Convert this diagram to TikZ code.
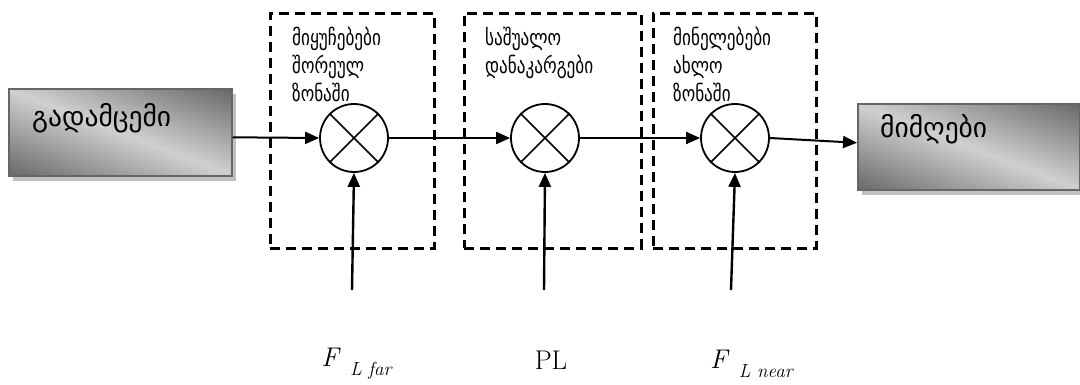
\documentclass[tikz,border=0pt]{standalone}
\usepackage{fontspec}
\newfontfamily\geo{DejaVu Sans}
\newfontfamily\geonarrow[FakeStretch=0.78]{DejaVu Sans}
\usetikzlibrary{arrows.meta,shadows}
\definecolor{boxdark}{HTML}{666666}
\definecolor{boxlight}{HTML}{D0D0D0}
\definecolor{boxedge}{HTML}{666666}
\definecolor{shadowgrey}{HTML}{C0C0C0}
% italic symbol with a lowered, smaller italic index
\newcommand{\lossvar}[2]{\textit{#1}\hspace{0.35em}\raisebox{-0.32em}{\fontsize{19}{20}\selectfont\textit{#2}}}
\begin{document}
\begin{tikzpicture}[x=1pt,y=-1pt,
  wire/.style={line width=2pt},
  arr/.style={wire,-{Triangle[length=14pt,width=12pt]}},
  feed/.style={line width=2.4pt,-{Triangle[length=14pt,width=12pt]}},
  mixer/.style={circle,draw,line width=1.8pt,minimum size=68pt,inner sep=0pt},
  zone/.style={draw,line width=2.8pt,dash pattern=on 10pt off 6pt,inner sep=0pt,anchor=north west},
  zonetext/.style={font=\geonarrow\fontsize{22}{28}\selectfont,align=left,inner sep=0pt,anchor=north west},
  endbox/.style={draw=boxedge,line width=1.6pt,inner sep=0pt,anchor=north west,
    general shadow={fill=shadowgrey,shadow xshift=4pt,shadow yshift=-5pt},
    path picture={
      % light band along the falling diagonal, dark towards two corners
      \shade[top color=boxdark,bottom color=boxdark,middle color=boxlight,
             transform canvas={rotate around={-21:(path picture bounding box.center)}}]
        ([shift={(-135,-82)}]path picture bounding box.center) rectangle
        ([shift={(135,82)}]path picture bounding box.center);
    }},
  endtext/.style={font=\geo\fontsize{27.5}{30}\selectfont,inner sep=0pt,anchor=base west},
  mathlbl/.style={font=\fontsize{27}{30}\selectfont,inner sep=0pt}
]
\useasboundingbox (0,0) rectangle (1080,385);

% transmitter and receiver blocks
\node[endbox,minimum width=223pt,minimum height=87pt] (tx) at (8,88) {};
\node[endtext] (txt) at (32,127) {გადამცემი};
\node[endbox,minimum width=222pt,minimum height=86pt] (rx) at (857,103) {};
\node[endtext] (rxt) at (880,138) {მიმღები};

% dashed propagation zones
\node[zone,minimum width=164pt,minimum height=235pt] (z1) at (269,12) {};
\node[zone,minimum width=177pt,minimum height=235pt] (z2) at (463,12) {};
\node[zone,minimum width=163pt,minimum height=235pt] (z3) at (652,12) {};
\node[zonetext] (t1) at (292,27) {მიყუჩებები\\შორეულ\\ზონაში};
\node[zonetext] (t2) at (485,27) {საშუალო\\დანაკარგები};
\node[zonetext] (t3) at (673,27) {მინელებები\\ახლო\\ზონაში};

% multipliers
\foreach \n/\x in {c1/354,c2/545,c3/735}{
  \node[mixer] (\n) at (\x,138) {};
  \draw[line width=1.6pt] (\n.north west) -- (\n.south east)
                          (\n.north east) -- (\n.south west);
}

% signal path
\draw[arr] ([yshift=-5pt]tx.east) -- (c1.west);
\draw[arr] (c1.east) -- (c2.west);
\draw[arr] (c2.east) -- (c3.west);
\draw[arr] (c3.east) -- ([yshift=4pt]rx.west);

% loss inputs
\coordinate (f1) at (352,290);
\coordinate (f2) at (544,290);
\coordinate (f3) at (731,290);
\draw[feed] (f1) -- (c1.south);
\draw[feed] (f2) -- (c2.south);
\draw[feed] (f3) -- (c3.south);

\node[mathlbl] (l1) at (357,364) {\lossvar{F}{L far}};
\node[mathlbl] (l2) at (551,360) {PL};
\node[mathlbl] (l3) at (752,364) {\lossvar{F}{L near}};
\end{tikzpicture}
\end{document}
